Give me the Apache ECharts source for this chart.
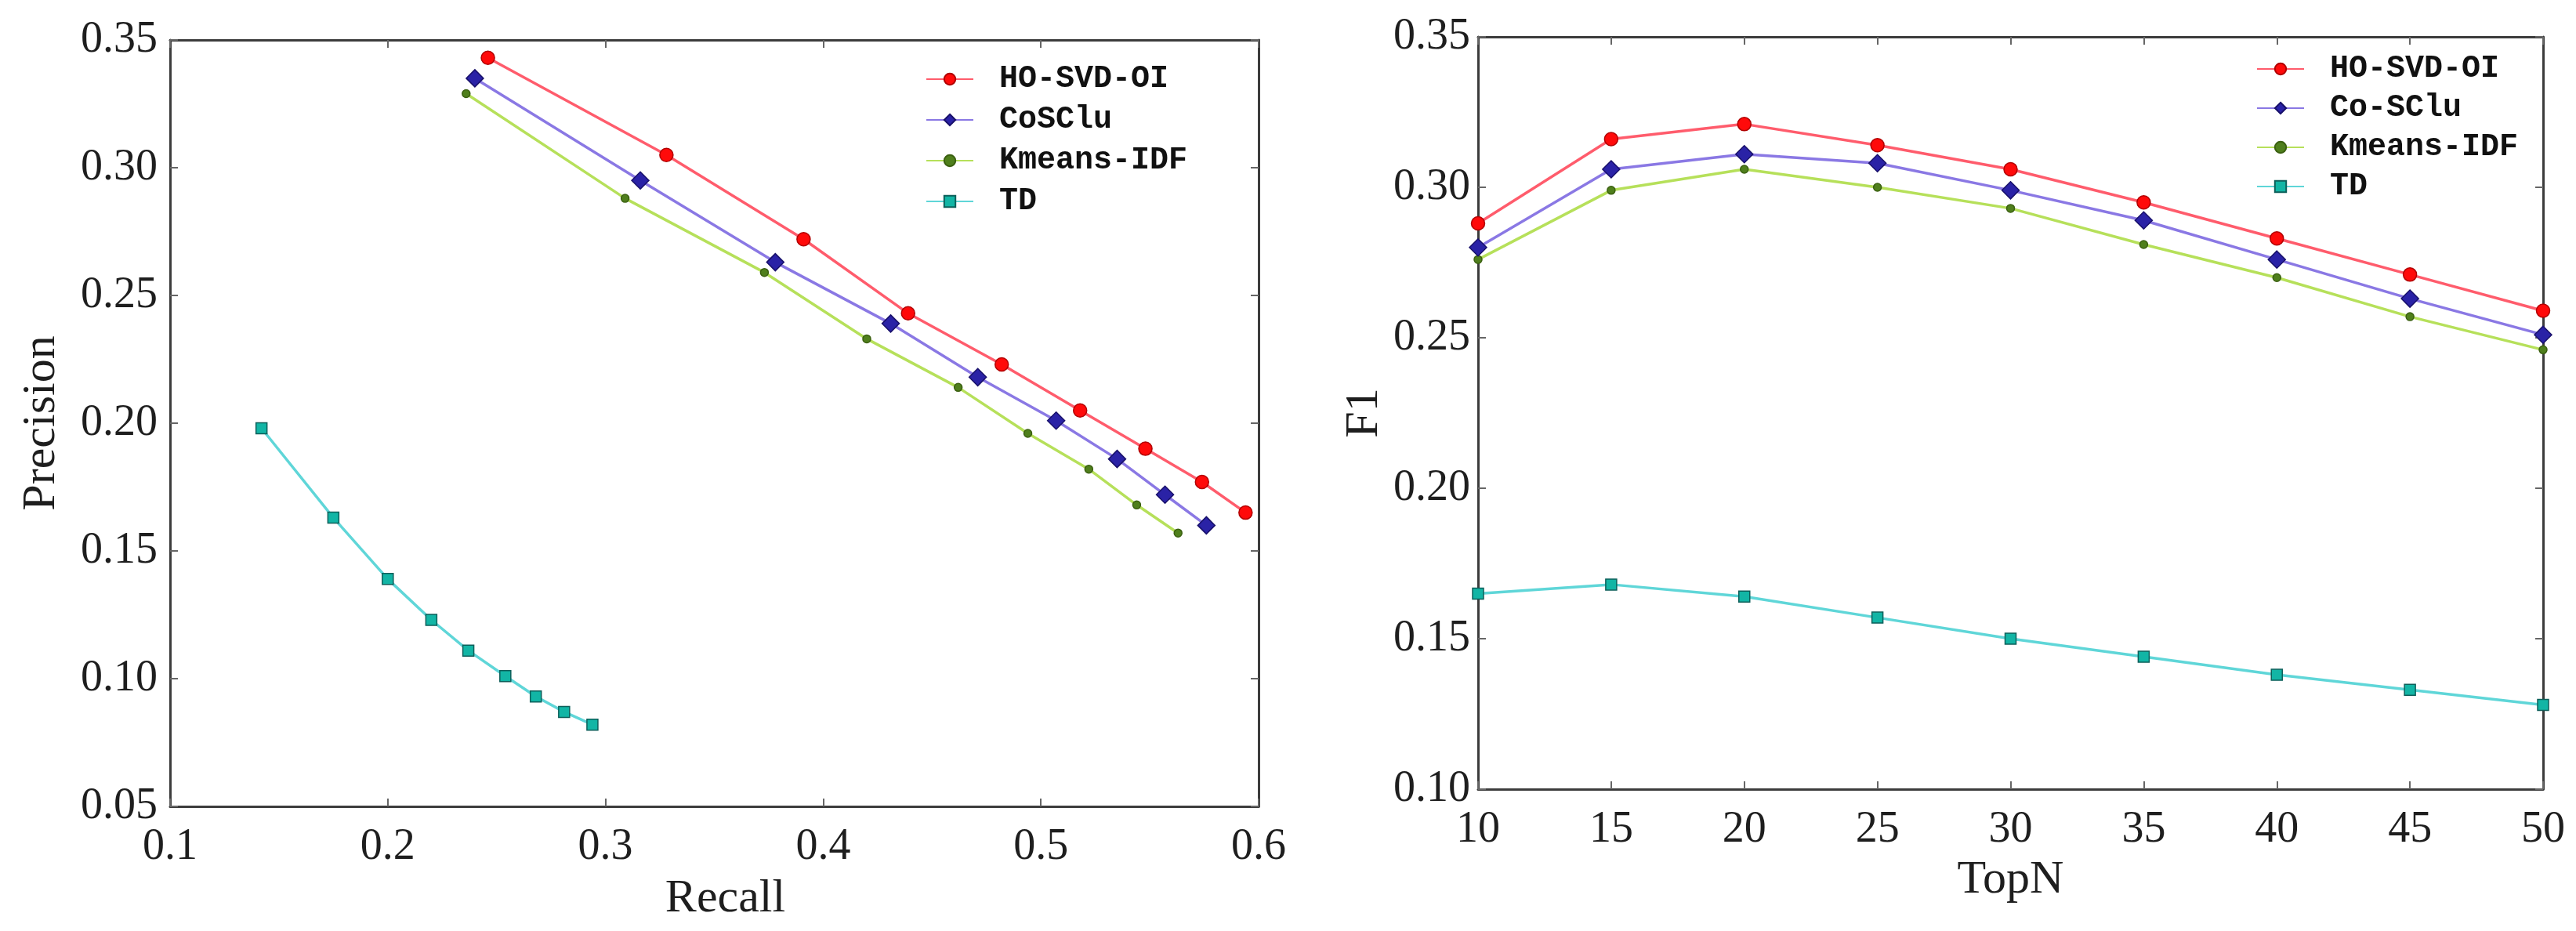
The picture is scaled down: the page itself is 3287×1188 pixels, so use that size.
<!DOCTYPE html>
<html>
<head>
<meta charset="utf-8">
<script src="https://cdn.jsdelivr.net/npm/echarts@6/dist/echarts.min.js"></script>
<style>
html,body{margin:0;padding:0;background:#fff;}
#chart{width:3287px;height:1188px;}
</style>
</head>
<body>
<div id="chart"></div>
<script>
// ---- Left chart: Precision vs Recall ----
const recallHO    = [0.246,0.328,0.391,0.439,0.482,0.518,0.548,0.574,0.594];
const precisionHO = [0.343,0.305,0.272,0.243,0.223,0.205,0.190,0.177,0.165];
const recallCo    = [0.240,0.316,0.378,0.431,0.471,0.507,0.535,0.557,0.576];
const precisionCo = [0.335,0.295,0.263,0.239,0.218,0.201,0.186,0.172,0.160];
const recallKm    = [0.236,0.309,0.373,0.420,0.462,0.494,0.522,0.544,0.563];
const precisionKm = [0.329,0.288,0.259,0.233,0.214,0.196,0.182,0.168,0.157];
const recallTD    = [0.142,0.175,0.200,0.220,0.237,0.254,0.268,0.281,0.294];
const precisionTD = [0.198,0.163,0.139,0.123,0.111,0.101,0.093,0.087,0.082];

// ---- Right chart: F1 vs TopN ----
const topN = [10,15,20,25,30,35,40,45,50];
const f1HO = [0.288,0.316,0.321,0.314,0.306,0.295,0.283,0.271,0.259];
const f1Co = [0.280,0.306,0.311,0.308,0.299,0.289,0.276,0.263,0.251];
const f1Km = [0.276,0.299,0.306,0.300,0.293,0.281,0.270,0.257,0.246];
const f1TD = [0.165,0.168,0.164,0.157,0.150,0.144,0.138,0.133,0.128];

const leftNames  = ['HO-SVD-OI','CoSClu','Kmeans-IDF','TD'];
const rightNames = ['HO-SVD-OI','Co-SClu','Kmeans-IDF','TD'];

const zip = (a,b) => a.map((v,i)=>[v,b[i]]);

const styles = [
  {line:'#ff5c6c', fill:'#ff0a0a', border:'#b00000', symbol:'circle', size:17},
  {line:'#8a78e4', fill:'#2a22a6', border:'#18106a', symbol:'diamond', size:22},
  {line:'#b6e05a', fill:'#4f7f1c', border:'#3a5f10', symbol:'circle', size:10},
  {line:'#5fd6d8', fill:'#12b5a5', border:'#0d5f5a', symbol:'rect', size:14}
];

const axisColor = '#3c3c3c';
const tickFont = {fontFamily:'Liberation Serif', fontSize:56, color:'#1e1e1e'};
const nameFont = {fontFamily:'Liberation Serif', fontSize:60, color:'#1e1e1e'};

function baseAxis(extra){
  return Object.assign({
    type:'value',
    axisLine:{show:true, onZero:false, lineStyle:{color:axisColor, width:3}},
    axisTick:{show:true, inside:true, length:10, lineStyle:{color:'#666', width:2}},
    splitLine:{show:false}
  }, extra);
}

function mkSeries(name, data, idx, xi, yi){
  const s = styles[idx];
  return {
    name, type:'line', data, xAxisIndex:xi, yAxisIndex:yi,
    symbol:s.symbol, symbolSize:s.size,
    lineStyle:{color:s.line, width:3.5},
    itemStyle:{color:s.fill, borderColor:s.border, borderWidth:1.5},
    clip:false, animation:false, z: 10-idx
  };
}

const chart = echarts.init(document.getElementById('chart'), null, {renderer:'canvas'});

const legendText = {fontFamily:'Liberation Mono', fontWeight:'bold', fontSize:40, color:'#111', padding:[0,0,0,28]};

chart.setOption({
  backgroundColor:'#ffffff',
  animation:false,
  grid:[
    {left:217, right:1681, top:51, bottom:159},
    {left:1886, right:42, top:47, bottom:181}
  ],
  xAxis:[
    baseAxis({gridIndex:0, position:'bottom', min:0.1, max:0.6, interval:0.1,
      name:'Recall', nameLocation:'middle', nameGap:88,
      nameTextStyle:Object.assign({padding:[0,0,0,28]}, nameFont),
      axisLabel:Object.assign({margin:24, formatter:v=>v.toFixed(1)}, tickFont)}),
    baseAxis({gridIndex:0, position:'top', min:0.1, max:0.6, interval:0.1, axisLabel:{show:false}}),
    baseAxis({gridIndex:1, position:'bottom', min:10, max:50, interval:5,
      name:'TopN', nameLocation:'middle', nameGap:86, nameTextStyle:nameFont,
      axisLabel:Object.assign({margin:24}, tickFont)}),
    baseAxis({gridIndex:1, position:'top', min:10, max:50, interval:5, axisLabel:{show:false}})
  ],
  yAxis:[
    baseAxis({gridIndex:0, position:'left', min:0.05, max:0.35, interval:0.05,
      name:'Precision', nameLocation:'middle', nameGap:134, nameTextStyle:nameFont,
      axisLabel:Object.assign({margin:16, formatter:v=>v.toFixed(2)}, tickFont)}),
    baseAxis({gridIndex:0, position:'right', min:0.05, max:0.35, interval:0.05, axisLabel:{show:false}}),
    baseAxis({gridIndex:1, position:'left', min:0.1, max:0.35, interval:0.05,
      name:'F1', nameLocation:'middle', nameGap:115, nameTextStyle:nameFont,
      axisLabel:Object.assign({margin:10, formatter:v=>v.toFixed(2)}, tickFont)}),
    baseAxis({gridIndex:1, position:'right', min:0.1, max:0.35, interval:0.05, axisLabel:{show:false}})
  ],
  legend:[
    {data:leftNames, left:1176, top:76, orient:'vertical', itemWidth:60, itemHeight:18, itemGap:12,
     textStyle:legendText, selectedMode:false},
    {data:rightNames, left:2874, top:63, orient:'vertical', itemWidth:60, itemHeight:18, itemGap:10,
     textStyle:legendText, selectedMode:false}
  ],
  series:[
    mkSeries(leftNames[0], zip(recallHO, precisionHO), 0, 0, 0),
    mkSeries(leftNames[1], zip(recallCo, precisionCo), 1, 0, 0),
    mkSeries(leftNames[2], zip(recallKm, precisionKm), 2, 0, 0),
    mkSeries(leftNames[3], zip(recallTD, precisionTD), 3, 0, 0),
    mkSeries(rightNames[0], zip(topN, f1HO), 0, 2, 2),
    mkSeries(rightNames[1], zip(topN, f1Co), 1, 2, 2),
    mkSeries(rightNames[2], zip(topN, f1Km), 2, 2, 2),
    mkSeries(rightNames[3], zip(topN, f1TD), 3, 2, 2)
  ]
});
</script>
</body>
</html>
